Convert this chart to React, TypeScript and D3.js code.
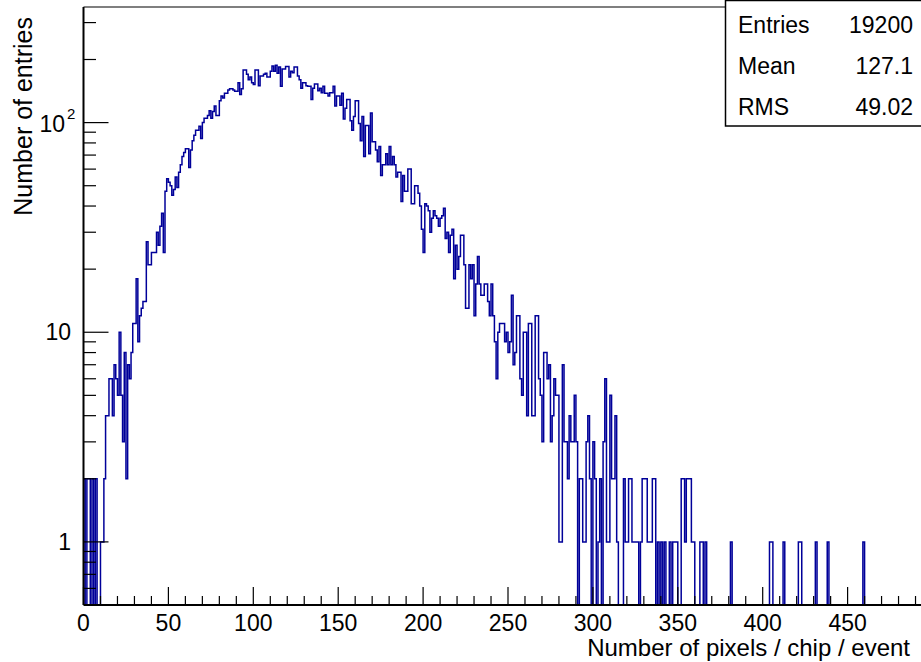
import React from 'react';
import * as d3 from 'd3';

// Bin contents (bin width 1, starting at 0)
const counts000 = [
  2, 0, 2, 2, 0, 2, 0, 2, 0, 0, 1, 1, 2, 4, 4, 6, 6, 4, 7, 6,
  5, 10, 5, 3, 8, 2, 7, 6, 8, 11, 11, 18, 9, 12, 13, 14, 14, 27, 21, 21,
  24, 24, 24, 30, 26, 32, 37, 24, 47, 54, 52, 50, 45, 48, 55, 49, 58, 63, 69, 72,
  75, 75, 61, 74, 82, 87, 92, 92, 96, 84, 100, 105, 105, 108, 114, 105, 113, 120, 108, 108,
  127, 134, 131, 138, 138, 143, 145, 145, 143, 141, 141, 155, 136, 145, 178, 178, 170, 160, 165, 155,
];
const counts100 = [
  152, 178, 178, 150, 167, 167, 170, 172, 165, 165, 176, 186, 176, 188, 172, 184, 149, 180, 180, 185,
  185, 165, 176, 173, 184, 184, 167, 160, 146, 155, 155, 150, 149, 149, 129, 146, 153, 153, 142, 146,
  139, 149, 138, 138, 134, 139, 139, 149, 120, 134, 134, 121, 138, 104, 117, 129, 129, 102, 92, 107,
  127, 127, 99, 82, 107, 69, 97, 97, 71, 111, 81, 81, 74, 65, 77, 56, 63, 63, 71, 63,
  77, 63, 69, 63, 55, 58, 58, 42, 56, 47, 47, 60, 60, 41, 41, 50, 50, 46, 40, 31,
];
const counts200 = [
  24, 41, 40, 38, 30, 35, 38, 36, 35, 32, 35, 36, 39, 28, 30, 24, 29, 31, 18, 26,
  20, 23, 29, 29, 21, 13, 13, 21, 18, 21, 12, 17, 23, 17, 15, 15, 17, 17, 14, 12,
  17, 12, 9, 6, 10, 11, 11, 11, 9, 10, 8, 9, 15, 7, 8, 12, 12, 6, 5, 10,
  10, 4, 11, 11, 4, 4, 12, 12, 6, 5, 3, 8, 8, 6, 7, 3, 4, 6, 5, 5,
  1, 1, 7, 3, 3, 2, 4, 3, 3, 5, 3, 0, 2, 2, 1, 1, 3, 4, 2, 0,
];
const counts300 = [
  3, 2, 0, 1, 2, 0, 3, 6, 1, 1, 5, 2, 2, 4, 1, 0, 0, 0, 2, 1,
  1, 2, 2, 1, 1, 1, 1, 0, 1, 2, 2, 2, 1, 1, 1, 2, 2, 0, 1, 0,
  1, 0, 1, 0, 0, 1, 0, 1, 1, 1, 0, 0, 2, 2, 1, 2, 2, 2, 1, 1,
  0, 0, 0, 1, 1, 0, 1, 0, 0, 0,
];
// isolated single entries in the far tail: [bin, count]
const tailEntries: [number, number][] = [
  [381, 1], [404, 1], [405, 1], [412, 1], [421, 1], [422, 1], [431, 1], [438, 1], [459, 1],
];
const N_BINS = 500;

const xTickLabels = [0, 50, 100, 150, 200, 250, 300, 350, 400, 450];
const yMajorTicks = [1, 10, 100];
const yMinorTicks = [0.6, 0.7, 0.8, 0.9, 2, 3, 4, 5, 6, 7, 8, 9, 20, 30, 40, 50, 60, 70, 80, 90, 200, 300];
const statsRows: [string, string][] = [
  ['Entries', '19200'],
  ['Mean', '127.1'],
  ['RMS', '49.02'],
];

const FONT = '"Liberation Sans", Arial, Helvetica, sans-serif';

export default function App() {
  const counts: number[] = new Array(N_BINS).fill(0);
  [...counts000, ...counts100, ...counts200, ...counts300].forEach((v, i) => {
    counts[i] = v;
  });
  tailEntries.forEach(([b, v]) => {
    counts[b] = v;
  });

  const W = 921;
  const H = 662;
  const left = 83.5;
  const top = 7;
  const bottom = 605;
  const right = 940;

  const x = d3.scaleLinear().domain([0, N_BINS]).range([left, left + N_BINS * 1.698]);
  const y = d3.scaleLog().domain([0.5, 356]).range([bottom, top]);
  const yZero = bottom + 4;

  const pts: [number, number][] = [[x(0), yZero]];
  counts.forEach((v, i) => {
    const yy = v > 0 ? y(v) : yZero;
    pts.push([x(i), yy]);
    pts.push([x(i + 1), yy]);
  });
  pts.push([x(N_BINS), yZero]);
  const histPath = d3.line()(pts) || '';

  const xTicks = d3.range(0, 500, 10);

  return (
    <svg
      width={W}
      height={H}
      style={{ position: 'absolute', left: 0, top: 0, background: '#fff' }}
      fontFamily={FONT}
    >
      <rect x={0} y={0} width={W} height={H} fill="#fff" />
      <defs>
        <clipPath id="frameClip">
          <rect x={left} y={top} width={right - left} height={bottom - top} />
        </clipPath>
      </defs>

      {/* histogram */}
      <path
        d={histPath}
        fill="none"
        stroke="#000099"
        strokeWidth={1.5}
        clipPath="url(#frameClip)"
      />

      {/* frame */}
      <line x1={left} y1={top} x2={right} y2={top} stroke="#000" strokeWidth={1.2} />
      <line x1={left} y1={top} x2={left} y2={bottom} stroke="#000" strokeWidth={2} />
      <line x1={left} y1={bottom} x2={right} y2={bottom} stroke="#000" strokeWidth={2} />

      {/* x ticks */}
      {xTicks.map((t) => (
        <line
          key={'xt' + t}
          x1={x(t)}
          x2={x(t)}
          y1={bottom}
          y2={bottom - (t % 50 === 0 ? 18 : 9)}
          stroke="#000"
          strokeWidth={1.2}
        />
      ))}
      {xTickLabels.map((t) => (
        <text key={'xl' + t} x={x(t)} y={631} fontSize={23} textAnchor="middle" fill="#000">
          {t}
        </text>
      ))}

      {/* y ticks */}
      {yMajorTicks.map((t) => (
        <line key={'ym' + t} x1={left} x2={left + 25} y1={y(t)} y2={y(t)} stroke="#000" strokeWidth={1.2} />
      ))}
      {yMinorTicks.map((t) => (
        <line key={'yn' + t} x1={left} x2={left + 12.5} y1={y(t)} y2={y(t)} stroke="#000" strokeWidth={1.2} />
      ))}
      <text x={71} y={y(1) + 8} fontSize={23} textAnchor="end" fill="#000">1</text>
      <text x={71} y={y(10) + 8} fontSize={23} textAnchor="end" fill="#000">10</text>
      <text x={65} y={y(100) + 9} fontSize={23} textAnchor="end" fill="#000">10</text>
      <text x={67} y={y(100) - 4} fontSize={15} textAnchor="start" fill="#000">2</text>

      {/* axis titles */}
      <text x={910} y={656} fontSize={24} textAnchor="end" fill="#000">
        Number of pixels / chip / event
      </text>
      <text
        transform={`translate(32, 17) rotate(-90)`}
        fontSize={25}
        textAnchor="end"
        fill="#000"
      >
        Number of entries
      </text>

      {/* stats box */}
      <rect x={725.5} y={0.5} width={220} height={125.5} fill="#fff" stroke="#000" strokeWidth={1.5} />
      {statsRows.map(([k, v], i) => (
        <g key={k}>
          <text x={738} y={33 + i * 41} fontSize={23} fill="#000">{k}</text>
          <text x={913} y={33 + i * 41} fontSize={23} textAnchor="end" fill="#000">{v}</text>
        </g>
      ))}
    </svg>
  );
}
